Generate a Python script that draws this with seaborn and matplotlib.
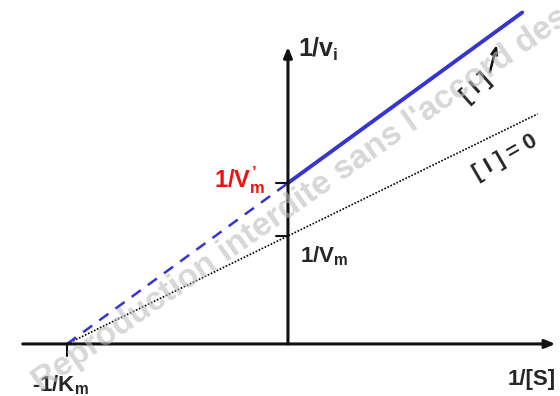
import matplotlib
matplotlib.use("Agg")
import matplotlib.pyplot as plt
import numpy as np
import pandas as pd
import seaborn as sns

sns.set_style("white")
plt.rcParams["font.family"] = ["Liberation Sans", "DejaVu Sans"]
plt.rcParams["font.weight"] = "bold"
plt.rcParams["mathtext.fontset"] = "custom"
plt.rcParams["mathtext.rm"] = "Liberation Sans:bold"
plt.rcParams["mathtext.it"] = "Liberation Sans:bold"
plt.rcParams["mathtext.bf"] = "Liberation Sans:bold"

# Lineweaver-Burk quantities (arbitrary units)
neg_inv_km = -1.0          # x intercept shared by both lines
inv_vm = 1.0               # y intercept without inhibitor
inv_vm_inh = 1.49          # y intercept with inhibitor
x_end_ref = 1.13           # right end of the [I] = 0 line
x_end_inh = 1.06           # right end of the inhibited line

x_ref = [neg_inv_km, 0.0, x_end_ref]
y_ref = [0.0, inv_vm, inv_vm * (1 - x_end_ref / neg_inv_km)]
x_inh_dash = [neg_inv_km, 0.0]
y_inh_dash = [0.0, inv_vm_inh]
x_inh = [0.0, x_end_inh]
y_inh = [inv_vm_inh, inv_vm_inh * (1 - x_end_inh / neg_inv_km)]

x_axis = [-1.2, 1.21]
y_axis_top = 2.75

fig = plt.figure(figsize=(5.6, 3.96), dpi=100)
ax = fig.add_axes([0, 0, 1, 1])
ax.set_xlim(-1.303, 1.231)
ax.set_ylim(-0.482, 3.185)
ax.axis("off")

blue = "#3535d4"

sns.lineplot(x=x_ref, y=y_ref, ax=ax, color="black", lw=1.2,
             linestyle=(0, (1, 1)), estimator=None, sort=False)
sns.lineplot(x=x_inh_dash, y=y_inh_dash, ax=ax, color=blue, lw=1.8,
             linestyle=(0, (4.5, 3.5)), estimator=None, sort=False)
sns.lineplot(x=x_inh, y=y_inh, ax=ax, color=blue, lw=2.8,
             estimator=None, sort=False)

# axes with arrow heads
ax.annotate("", xy=(x_axis[1], 0), xytext=(x_axis[0], 0),
            arrowprops=dict(arrowstyle="-|>,head_length=0.6,head_width=0.25",
                            lw=2.2, color="#111111", shrinkA=0, shrinkB=0))
ax.annotate("", xy=(0, y_axis_top), xytext=(0, 0),
            arrowprops=dict(arrowstyle="-|>,head_length=0.6,head_width=0.25",
                            lw=2.2, color="#111111", shrinkA=0, shrinkB=0))

# intercept ticks
ax.plot([-0.055, 0], [inv_vm_inh, inv_vm_inh], color="#111111", lw=1.5)
ax.plot([-0.055, 0], [inv_vm, inv_vm], color="#111111", lw=1.5)
ax.plot([neg_inv_km, neg_inv_km], [0, -0.11], color="#111111", lw=1.5)

fs = 16
ax.text(0.045, 2.657, r"$1/v_i$", fontsize=18, ha="left", va="baseline")
ax.text(1.213, -0.38, "1/[S]", fontsize=fs, ha="right", va="baseline")
ax.text(-1.03, -0.435, r"-$1/K_m$", fontsize=fs, ha="center", va="baseline")
ax.text(0.054, 0.759, r"$1/V_m$", fontsize=fs, ha="left", va="baseline")
ax.text(-0.104, 1.454, r"$1/V^{’}_m$", fontsize=17, ha="right",
        va="baseline", color="#ee1111")

ax.text(0.985, 1.725, "[ I ] = 0", fontsize=16, ha="center", va="center",
        rotation=30)
ax.text(0.851, 2.37, "[ I ]", fontsize=16, ha="center", va="center",
        rotation=42)
ax.annotate("", xy=(0.945, 2.77), xytext=(0.914, 2.52),
            arrowprops=dict(arrowstyle="-|>,head_length=0.5,head_width=0.2",
                            lw=1.8, color="#111111", shrinkA=0, shrinkB=0))

# watermark
ax.text(-1.117, -0.446, "Reproduction interdite sans l'accord des auteurs",
        fontsize=24, color="#bdbdbd", alpha=0.6, rotation=35,
        rotation_mode="anchor", ha="left", va="baseline", zorder=10)

fig.savefig("out.png", dpi=100)
